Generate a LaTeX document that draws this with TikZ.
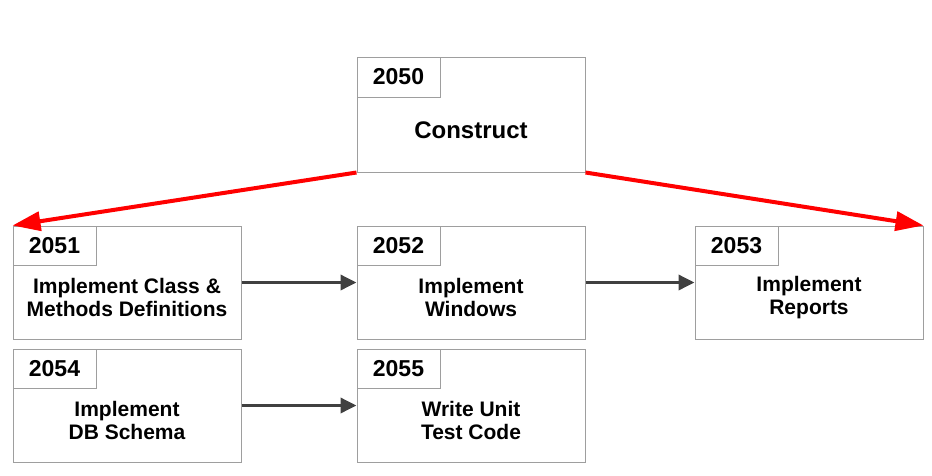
\documentclass[tikz,border=0pt]{standalone}
\usepackage{fontspec}
\setmainfont{Liberation Sans}
\usetikzlibrary{positioning,arrows.meta}

\begin{document}
\begin{tikzpicture}[x=1pt, y=1pt,
  box/.style={rectangle, draw=black!38, line width=1pt, fill=white, minimum width=228pt, minimum height=113pt, inner sep=0pt},
  tab/.style={rectangle, draw=black!38, line width=1pt, minimum width=83pt, minimum height=39pt, inner sep=0pt, anchor=north west, font=\bfseries\fontsize{23}{23}\selectfont},
  title/.style={align=center, inner sep=0pt, font=\bfseries\fontsize{21}{23}\selectfont},
  flow/.style={draw=black!75, line width=3.5pt, -{Triangle[length=16pt,width=15pt]}},
  split/.style={draw=red, line width=4pt, -{Triangle[length=28pt,width=19pt]}}]

\useasboundingbox (0,0) rectangle (932,-475);

\node (b2050) [box, minimum height=115pt] at (471,-114.5) {};
\node (b2052) [box, below=53pt of b2050] {};
\node (b2051) [box, left=115pt of b2052] {};
\node (b2053) [box, right=109pt of b2052] {};
\node (b2054) [box, below=9pt of b2051] {};
\node (b2055) [box, below=9pt of b2052] {};

\node (n2050) [tab, minimum height=40pt] at (b2050.north west) {2050};
\node (n2051) [tab] at (b2051.north west) {2051};
\node (n2052) [tab] at (b2052.north west) {2052};
\node (n2053) [tab] at (b2053.north west) {2053};
\node (n2054) [tab] at (b2054.north west) {2054};
\node (n2055) [tab] at (b2055.north west) {2055};

\node (t2050) [title, font=\bfseries\fontsize{24}{24}\selectfont] at ([yshift=-15.5pt]b2050.center) {Construct};
\node (t2051) [title] at ([yshift=-15pt]b2051.center) {Implement Class \&\\Methods Definitions};
\node (t2052) [title] at ([yshift=-15pt]b2052.center) {Implement\\Windows};
\node (t2053) [title] at ([yshift=-15pt]b2053.center) {Implement\\Reports};
\node (t2054) [title] at ([yshift=-15pt]b2054.center) {Implement\\DB Schema};
\node (t2055) [title] at ([yshift=-15pt]b2055.center) {Write Unit\\Test Code};

\draw[split] (b2050.south west) -- (b2051.north west);
\draw[split] (b2050.south east) -- (b2053.north east);
\draw[flow] (b2051) -- (b2052);
\draw[flow] (b2052) -- (b2053);
\draw[flow] (b2054) -- (b2055);

\end{tikzpicture}
\end{document}
